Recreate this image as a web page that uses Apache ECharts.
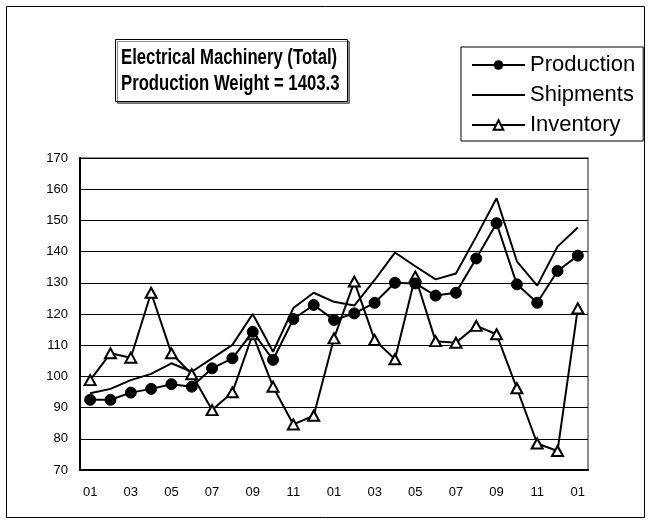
<!DOCTYPE html>
<html>
<head>
<meta charset="utf-8">
<script src="https://cdn.jsdelivr.net/npm/echarts@6/dist/echarts.min.js"></script>
<style>
  html, body { margin: 0; padding: 0; background: #fff; }
  #chart { width: 651px; height: 525px; }
</style>
</head>
<body>
<div id="chart"></div>
<script>
// months: Jan of year 1 .. Jan of year 3
const months = ['01', '02', '03', '04', '05', '06', '07', '08', '09', '10', '11', '12',
  '01', '02', '03', '04', '05', '06', '07', '08', '09', '10', '11', '12', '01']

const production = [92.5, 92.5, 94.8, 96.0, 97.5, 96.7, 102.6, 105.8, 114.3, 105.3, 118.4, 122.9,
  118.1, 120.2, 123.6, 130.0, 129.8, 125.9, 126.8, 137.8, 149.1, 129.5, 123.6, 133.8, 138.7]
const shipments = [94.6, 96.0, 98.8, 100.8, 104.2, 101.5, 105.8, 110.1, 120.0, 107.9, 121.9, 126.8,
  123.9, 122.7, 130.9, 139.7, 135.3, 131.1, 133.0, 144.8, 157.1, 136.9, 129.1, 141.6, 147.7]
const inventory = [98.8, 107.4, 106.0, 126.8, 107.4, 100.7, 89.2, 94.9, 113.5, 96.7, 84.6, 87.4,
  112.2, 130.4, 111.7, 105.5, 132.0, 111.3, 110.8, 116.2, 113.5, 96.2, 78.5, 76.1, 121.8]

const titleText = 'Electrical Machinery (Total)\nProduction Weight = 1403.3'

const chart = echarts.init(document.getElementById('chart'), null, { renderer: 'canvas' })

chart.setOption({
  animation: false,
  backgroundColor: '#fff',
  legend: {
    orient: 'vertical',
    left: 461,
    top: 47,
    padding: [3, 8, 1, 10],
    borderColor: '#000',
    borderWidth: 1,
    itemWidth: 53,
    itemHeight: 12,
    itemGap: 0,
    data: [
      'Production',
      // plain line, no marker in the key
      { name: 'Shipments', itemStyle: { opacity: 0 } },
      'Inventory'
    ],
    textStyle: {
      fontFamily: "'Liberation Sans', Arial, sans-serif",
      fontSize: 22,
      lineHeight: 30,
      color: '#000'
    }
  },
  grid: {
    left: 80,
    right: 63,
    top: 158,
    bottom: 55,
    show: true,
    borderColor: '#8c8c8c',
    borderWidth: 2
  },
  xAxis: {
    type: 'category',
    data: months,
    boundaryGap: true,
    axisLine: { lineStyle: { color: '#000', width: 2 } },
    axisTick: { inside: true, length: 5, interval: 1, lineStyle: { color: '#000', width: 1 } },
    axisLabel: {
      interval: 1,
      margin: 16,
      color: '#000',
      fontFamily: "'Liberation Sans', Arial, sans-serif",
      fontSize: 13
    },
    splitLine: { show: false }
  },
  yAxis: {
    type: 'value',
    min: 70,
    max: 170,
    interval: 10,
    axisLine: { show: true, lineStyle: { color: '#000', width: 2 } },
    axisTick: { show: false },
    axisLabel: {
      margin: 12,
      color: '#000',
      fontFamily: "'Liberation Sans', Arial, sans-serif",
      fontSize: 13
    },
    splitLine: { lineStyle: { color: '#000', width: 1 } }
  },
  series: [
    {
      name: 'Shipments',
      type: 'line',
      data: shipments,
      symbol: 'none',
      lineStyle: { color: '#000', width: 2 },
      itemStyle: { color: '#000' },
      z: 2
    },
    {
      name: 'Inventory',
      type: 'line',
      data: inventory,
      symbol: 'triangle',
      symbolSize: [11, 10],
      lineStyle: { color: '#000', width: 2 },
      itemStyle: { color: '#fff', borderColor: '#000', borderWidth: 2 },
      z: 3
    },
    {
      name: 'Production',
      type: 'line',
      data: production,
      symbol: 'circle',
      symbolSize: 11,
      lineStyle: { color: '#000', width: 2 },
      itemStyle: { color: '#000', borderColor: '#000' },
      z: 4
    }
  ],
  graphic: [
    {
      // outer chart frame
      type: 'rect',
      shape: { x: 6.5, y: 6.5, width: 638, height: 511 },
      style: { fill: 'none', stroke: '#000', lineWidth: 1 },
      silent: true,
      z: 100
    },
    {
      // title box
      type: 'rect',
      shape: { x: 115.5, y: 39.5, width: 232, height: 62 },
      style: {
        fill: '#fff', stroke: '#000', lineWidth: 1,
        shadowColor: 'rgba(0,0,0,0.45)', shadowOffsetX: 2, shadowOffsetY: 2, shadowBlur: 0
      },
      silent: true,
      z: 50
    },
    {
      type: 'text',
      x: 121,
      y: 45,
      scaleX: 0.76,
      style: {
        text: titleText,
        fill: '#000',
        font: "bold 22px 'Liberation Sans', Arial, sans-serif",
        lineHeight: 26,
        verticalAlign: 'top',
        align: 'left'
      },
      silent: true,
      z: 51
    }
  ]
})
</script>
</body>
</html>
